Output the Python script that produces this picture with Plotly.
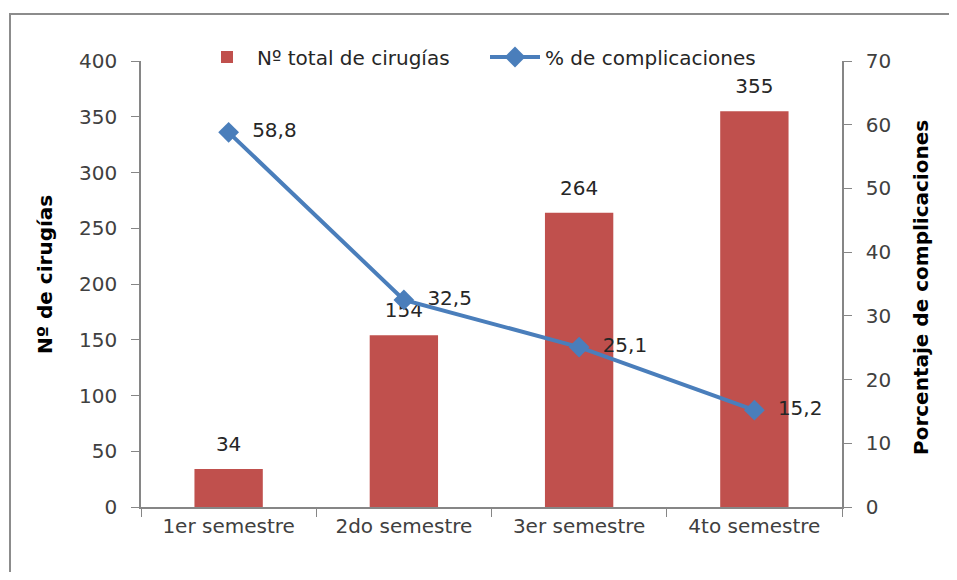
import plotly.graph_objects as go

categories = ["1er semestre", "2do semestre", "3er semestre", "4to semestre"]
cirugias = [34, 154, 264, 355]
complicaciones = [58.8, 32.5, 25.1, 15.2]
bar_labels = ["34", "154", "264", "355"]
line_labels = ["58,8", "32,5", "25,1", "15,2"]

FONT = "DejaVu Sans, sans-serif"
RED = "#C0504D"
BLUE = "#4A7EBB"
AX = "#868686"

# page body has an 8px offset; figure coordinates = screen - 8
W, H = 941, 564
L, T, R_EDGE, B_EDGE = 133, 53, 834, 499
PW, PH = R_EDGE - L, B_EDGE - T


def px(sx):
    return (sx - 8 - L) / PW


def py(sy):
    return (B_EDGE - (sy - 8)) / PH


fig = go.Figure()
fig.add_trace(go.Bar(x=categories, y=cirugias, name="Nº total de cirugías",
                     marker=dict(color=RED, line=dict(width=0)), yaxis="y", width=0.39,
                     legend="legend"))
fig.add_trace(go.Scatter(x=categories, y=cirugias, mode="markers+text", text=bar_labels,
                         textposition="top center", marker=dict(size=19, opacity=0),
                         textfont=dict(size=20, color="#262626", family=FONT),
                         showlegend=False, hoverinfo="skip", yaxis="y", cliponaxis=False))
fig.add_trace(go.Scatter(x=categories, y=complicaciones, name="% de complicaciones",
                         mode="lines+markers", line=dict(color=BLUE, width=4),
                         marker=dict(symbol="diamond", size=16, color=BLUE),
                         yaxis="y2", cliponaxis=False, legend="legend2"))
fig.add_trace(go.Scatter(x=categories, y=complicaciones, mode="markers+text", text=line_labels,
                         textposition="middle right", marker=dict(size=36, opacity=0),
                         textfont=dict(size=20, color="#262626", family=FONT),
                         showlegend=False, hoverinfo="skip", yaxis="y2", cliponaxis=False))

leg_common = dict(orientation="h", yanchor="middle", xanchor="left",
                  bgcolor="rgba(0,0,0,0)", font=dict(size=20, color="#262626"),
                  itemwidth=50)

fig.update_layout(
    width=W, height=H,
    margin=dict(l=L, r=W - R_EDGE, t=T, b=H - B_EDGE),
    paper_bgcolor="white", plot_bgcolor="white",
    font=dict(family=FONT, size=20, color="#404040"),
    bargap=0.61,
    xaxis=dict(showline=True, linecolor=AX, linewidth=1.5, ticks="outside",
               tickcolor=AX, ticklen=8, tickson="boundaries", showgrid=False,
               tickfont=dict(size=20, color="#404040"), range=[-0.5, 3.5]),
    yaxis=dict(range=[0, 400], dtick=50, showline=True, linecolor=AX, linewidth=1.5,
               ticks="outside", tickcolor=AX, ticklen=8, showgrid=False, zeroline=False,
               tickfont=dict(size=20, color="#404040"), ticklabelstandoff=10),
    yaxis2=dict(range=[0, 70], dtick=10, overlaying="y", side="right", showline=True,
                linecolor=AX, linewidth=1.5, ticks="outside", tickcolor=AX, ticklen=8,
                showgrid=False, zeroline=False, tickfont=dict(size=20, color="#404040"),
                ticklabelstandoff=10),
    legend=dict(x=px(197), y=py(57), **leg_common),
    legend2=dict(x=px(485), y=py(57), **leg_common),
    showlegend=True,
    annotations=[
        dict(text="<b>Nº de cirugías</b>", xref="paper", yref="paper",
             x=px(45), y=py(275), xanchor="center", yanchor="middle",
             textangle=-90, showarrow=False,
             font=dict(size=20, color="#000000")),
        dict(text="<b>Porcentaje de complicaciones</b>", xref="paper", yref="paper",
             x=px(921), y=py(288), xanchor="center", yanchor="middle",
             textangle=-90, showarrow=False,
             font=dict(size=20, color="#000000")),
    ],
    shapes=[dict(type="rect", xref="paper", yref="paper",
                 x0=px(10), x1=px(955), y0=py(600), y1=py(14),
                 line=dict(color="#8c8c8c", width=2), layer="below")],
)

fig.write_html("out.html")
